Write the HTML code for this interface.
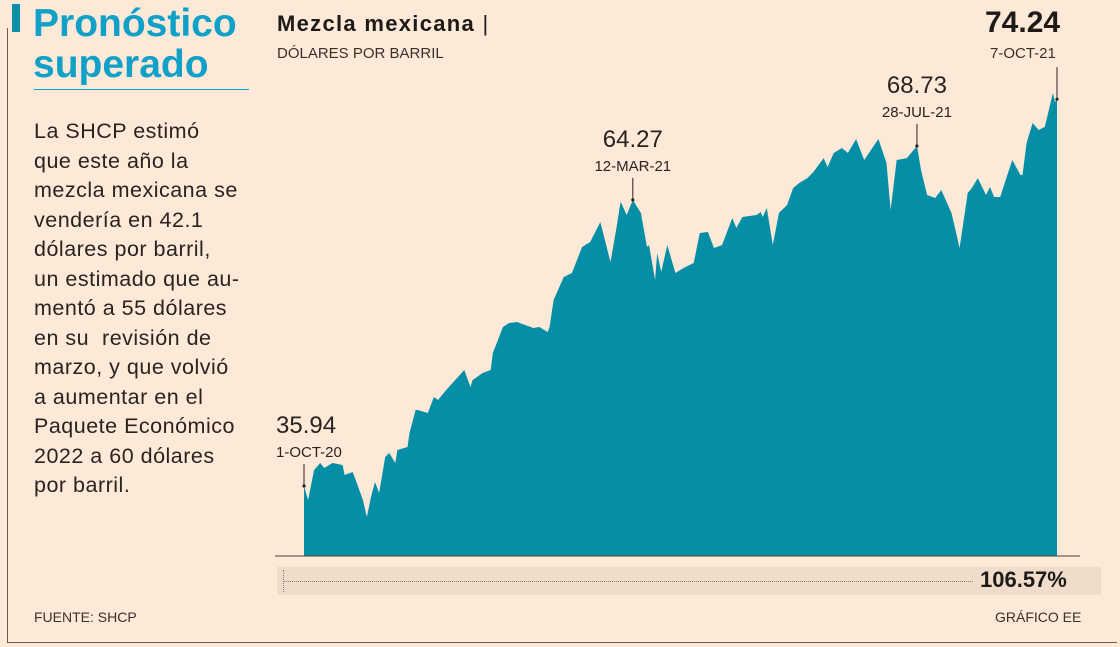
<!DOCTYPE html>
<html><head><meta charset="utf-8">
<style>
html,body{margin:0;padding:0}
body{width:1120px;height:647px;background:#fde9d8;position:relative;overflow:hidden;font-family:"Liberation Sans",sans-serif;color:#2a2320}
.abs{position:absolute}
</style></head><body>
<div class="abs" style="left:7px;top:28px;width:1px;height:615px;background:#6a5a50"></div>
<div class="abs" style="left:7px;top:642px;width:1110px;height:1px;background:#6a5a50"></div>
<div class="abs" style="left:12px;top:4px;width:8px;height:28px;background:#0a8fa5"></div>
<div class="abs" style="left:33px;top:3px;font-size:39px;line-height:41px;font-weight:bold;color:#10a0c8">Pronóstico<br>superado</div>
<div class="abs" style="left:34px;top:89px;width:215px;height:1px;background:#10a0c8"></div>
<div class="abs" style="left:34px;top:117px;font-size:21.5px;letter-spacing:0.5px;line-height:29.5px;color:#2a2320">La SHCP estimó<br>que este año la<br>mezcla mexicana se<br>vendería en 42.1<br>dólares por barril,<br>un estimado que au-<br>mentó a 55 dólares<br>en su &nbsp;revisión de<br>marzo, y que volvió<br>a aumentar en el<br>Paquete Económico<br>2022 a 60 dólares<br>por barril.</div>
<div class="abs" style="left:277px;top:11px;font-size:22px;letter-spacing:1.3px;font-weight:bold;color:#1e1a18">Mezcla mexicana <span style="font-weight:normal">|</span></div>
<div class="abs" style="left:277px;top:45px;font-size:15px;color:#3a302a">DÓLARES POR BARRIL</div>
<div class="abs" style="left:985px;top:6px;font-size:30px;font-weight:bold;color:#1e1a18">74.24</div>
<div class="abs" style="left:990px;top:45px;font-size:15px;color:#3a302a">7-OCT-21</div>
<svg class="abs" id="chart" style="left:0;top:0" width="1120" height="647"></svg>
<div class="abs" style="left:277px;top:567px;width:824px;height:28px;background:#f0dccb"></div>
<div class="abs" style="left:283px;top:581px;width:690px;border-top:1px dotted #8a7a70"></div>
<div class="abs" style="left:283px;top:570px;width:0;height:22px;border-left:1px dotted #8a7a70"></div>
<div class="abs" style="left:980px;top:567px;font-size:22px;font-weight:bold;color:#1e1a18">106.57%</div>
<div class="abs" style="left:34px;top:609px;font-size:14px;color:#3a302a">FUENTE: SHCP</div>
<div class="abs" style="left:995px;top:609px;font-size:14px;color:#3a302a">GRÁFICO EE</div>
<script>
const days=[0,2,5,8,10,14,19,20,24,26,29,31,33,35,37,40,42,45,46,51,52,55,56,61,64,66,70,79,82,83,88,92,93,95,98,101,105,109,113,116,120,121,123,128,132,137,141,146,151,154,156,159,162,166,169,170,173,174,176,179,183,187,192,195,199,202,206,211,213,216,223,225,226,228,231,234,238,241,244,248,251,256,258,261,265,268,272,276,283,287,289,292,297,302,304,307,311,314,319,323,327,329,332,336,338,340,343,346,349,353,354,356,359,362,365,369,370,371];
const prices=[35.94,34.55,37.52,38.22,37.72,38.22,38.02,37.03,37.33,36.24,34.55,32.87,34.85,36.34,35.25,38.81,39.21,38.22,39.5,39.8,41.19,43.46,43.46,43.17,44.75,44.45,45.44,47.43,45.74,46.43,47.13,47.43,49.11,50.1,51.68,52.08,52.18,51.88,51.58,51.68,51.19,51.68,54.36,56.63,57.03,59.6,60.1,62.08,58.12,61.58,64.1,62.77,64.27,62.97,59.6,59.8,56.34,59.01,57.13,59.8,57.03,57.52,58.02,60.99,61.09,59.5,59.8,62.47,61.48,62.57,62.77,63.07,62.57,63.46,59.8,62.97,63.76,65.44,65.94,66.43,67.03,68.41,67.52,68.91,69.41,68.91,70.3,68.22,70.3,67.92,63.27,68.22,68.41,69.6,67.23,64.75,64.45,65.25,62.97,59.5,64.95,65.44,66.43,64.75,65.54,64.55,64.55,66.43,68.22,66.73,66.73,69.9,71.88,71.19,71.49,74.85,73.96,74.24];
const noteDays=[0,162,302,371];
const noteValues=["35.94","64.27","68.73","74.24"];
const noteDates=["1-OCT-20","12-MAR-21","28-JUL-21","7-OCT-21"];
const NS="http://www.w3.org/2000/svg";
const svg=document.getElementById('chart');
const x=d=>304+(d/371)*753;
const y=v=>486-(v-35.94)*10.1;
const base=556;
let dStr=`M${x(days[0])},${base}`;
days.forEach((d,i)=>{dStr+=` L${x(d).toFixed(1)},${y(prices[i]).toFixed(1)}`});
dStr+=` L${x(days[days.length-1])},${base} Z`;
const area=document.createElementNS(NS,'path');
area.setAttribute('d',dStr);area.setAttribute('fill','#058ea6');


svg.appendChild(area);
const bl=document.createElementNS(NS,'line');
bl.setAttribute('x1',275);bl.setAttribute('x2',1080);bl.setAttribute('y1',base);bl.setAttribute('y2',base);
bl.setAttribute('stroke','#4a3a32');bl.setAttribute('stroke-width','1');


svg.appendChild(bl);
noteDays.forEach((d,k)=>{
  const i=days.indexOf(d);const px=x(d),py=y(prices[i]);
  const ln=document.createElementNS(NS,'line');
  ln.setAttribute('x1',px);ln.setAttribute('x2',px);ln.setAttribute('y2',py);
  ln.setAttribute('y1',k==3?py-32:py-22);
  ln.setAttribute('stroke','#2a2320');ln.setAttribute('stroke-width','1');
  
  
  svg.appendChild(ln);
  const c=document.createElementNS(NS,'circle');
  c.setAttribute('cx',px);c.setAttribute('cy',py);c.setAttribute('r',1.6);c.setAttribute('fill','#2a2320');
  
  
  svg.appendChild(c);
  if(k<3){
    const t1=document.createElementNS(NS,'text');
    t1.setAttribute('x',k==0?276:px);t1.setAttribute('y',py-53);
    t1.setAttribute('text-anchor',k==0?'start':'middle');
    t1.setAttribute('font-size','24');t1.setAttribute('fill','#2a2320');
    t1.setAttribute('font-family','Liberation Sans, sans-serif');
    t1.textContent=noteValues[k];
    
    
    svg.appendChild(t1);
    const t2=document.createElementNS(NS,'text');
    t2.setAttribute('x',k==0?276:px);t2.setAttribute('y',py-29);
    t2.setAttribute('text-anchor',k==0?'start':'middle');
    t2.setAttribute('font-size','15');t2.setAttribute('fill','#2a2320');
    t2.setAttribute('font-family','Liberation Sans, sans-serif');
    t2.textContent=noteDates[k];
    
    
    svg.appendChild(t2);
  }
});
</script>
</body></html>
